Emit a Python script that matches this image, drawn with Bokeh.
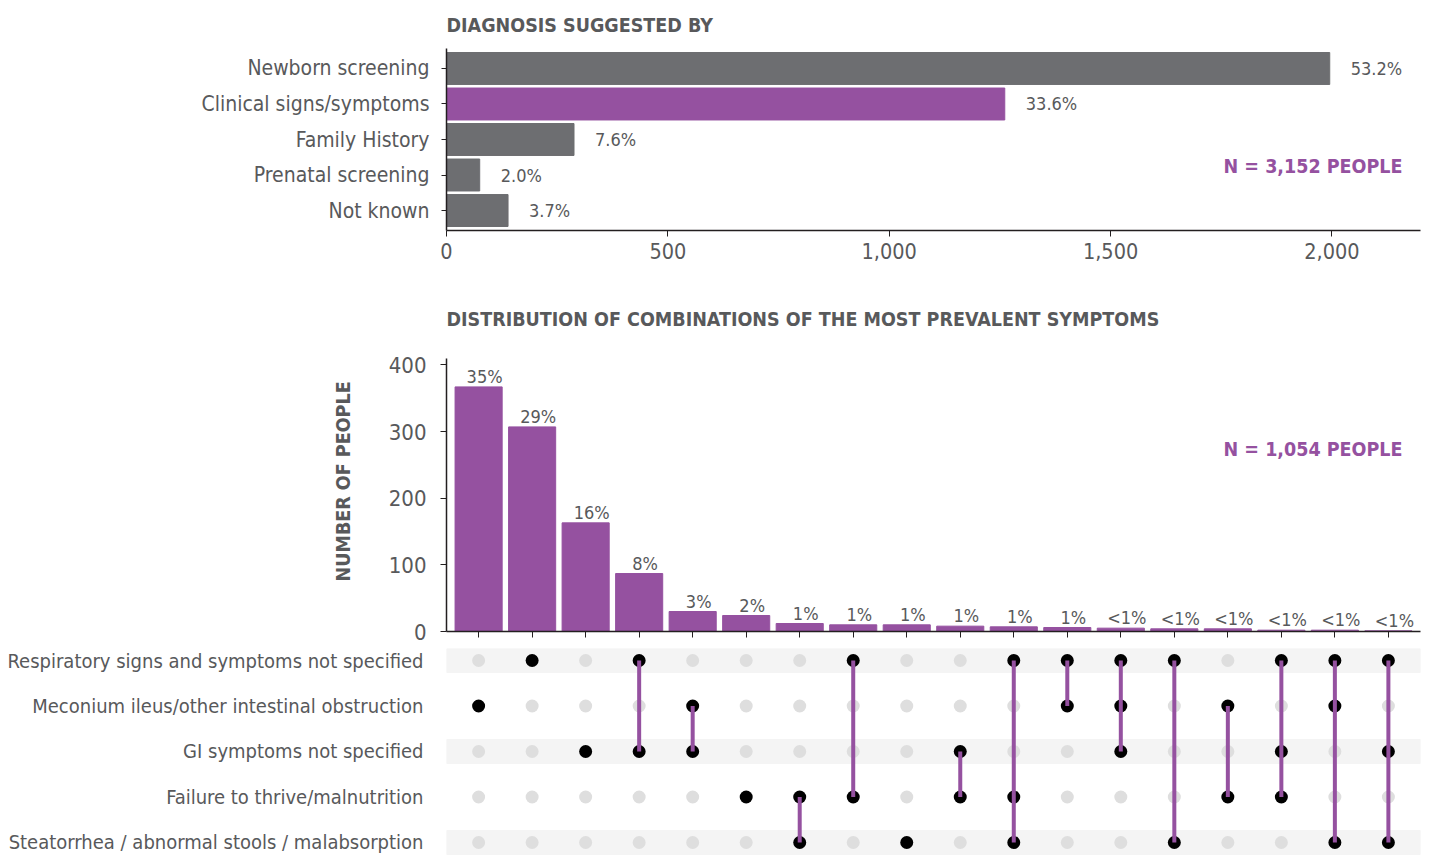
from bokeh.plotting import figure
from bokeh.models import Range1d, FixedTicker, Label, ColumnDataSource, CustomLabelingPolicy, Title
from bokeh.layouts import column
from bokeh.embed import file_html
from bokeh.resources import INLINE
from bokeh.core.properties import value

FONT = "'DejaVu Sans Condensed', 'Liberation Sans Narrow', Roboto, sans-serif"
TXT = "#58595b"
PURPLE = "#9551A0"
GREY = "#6d6e71"
AXIS = "#231f20"

# ---------------- data ----------------
diag_categories = ["Newborn screening", "Clinical signs/symptoms", "Family History",
                   "Prenatal screening", "Not known"]
diag_counts = [1995, 1261, 288, 75, 139]
diag_pct_labels = ["53.2%", "33.6%", "7.6%", "2.0%", "3.7%"]
diag_highlight = "Clinical signs/symptoms"
diag_title = "DIAGNOSIS SUGGESTED BY"
diag_n_label = "N = 3,152 PEOPLE"
diag_x_ticks = [0, 500, 1000, 1500, 2000]

symptoms = ["Respiratory signs and symptoms not specified",
            "Meconium ileus/other intestinal obstruction",
            "GI symptoms not specified",
            "Failure to thrive/malnutrition",
            "Steatorrhea / abnormal stools / malabsorption"]
combo_counts = [367, 307, 163, 87, 30, 24, 12, 10, 10, 8, 7, 6, 5, 4, 4, 2, 2, 1]
combo_pct_labels = ["35%", "29%", "16%", "8%", "3%", "2%", "1%", "1%", "1%", "1%",
                    "1%", "1%", "<1%", "<1%", "<1%", "<1%", "<1%", "<1%"]
combo_members = [[1], [0], [2], [0, 2], [1, 2], [3], [3, 4], [0, 3], [4], [2, 3],
                 [0, 3, 4], [0, 1], [0, 1, 2], [0, 4], [1, 3], [0, 2, 3], [0, 1, 4], [0, 2, 4]]
combo_title = "DISTRIBUTION OF COMBINATIONS OF THE MOST PREVALENT SYMPTOMS"
combo_y_title = "NUMBER OF PEOPLE"
combo_n_label = "N = 1,054 PEOPLE"
count_y_ticks = [0, 100, 200, 300, 400]
count_axis_max = 410

FIG_W = 1424
LEFT = 446
RIGHT = 4


def base_style(p):
    p.outline_line_color = None
    p.xgrid.visible = False
    p.ygrid.visible = False
    p.background_fill_color = "white"
    p.border_fill_color = "white"


# ---------------- top chart ----------------
n_diag = len(diag_categories)
y_top, y_bot = -0.563, n_diag - 1 + 0.563
p1 = figure(width=FIG_W, height=290, x_range=Range1d(0, 2200),
            y_range=Range1d(y_bot, y_top),
            output_backend="svg", toolbar_location=None,
            min_border_left=LEFT, min_border_right=RIGHT,
            min_border_top=48, min_border_bottom=60)
base_style(p1)
p1.title.text = diag_title
p1.title.text_font = FONT
p1.title.text_font_style = "bold"
p1.title.text_font_size = "19.5px"
p1.title.text_color = TXT
p1.title.align = "left"
p1.title.offset = 0
p1.title.standoff = 23

src1 = ColumnDataSource(dict(
    y=list(range(n_diag)), right=diag_counts, lab=diag_pct_labels,
    color=[PURPLE if c == diag_highlight else GREY for c in diag_categories]))
p1.hbar(y="y", left=0, right="right", height=0.9, color="color", source=src1)
p1.text(x="right", y="y", text="lab", source=src1, x_offset=21,
        text_align="left", text_baseline="middle",
        text_font=value(FONT), text_font_size="18px", text_color=TXT)

p1.xaxis.ticker = FixedTicker(ticks=diag_x_ticks)
p1.xaxis.major_label_overrides = {t: f"{t:,}" for t in diag_x_ticks}
p1.xaxis.minor_tick_line_color = None
p1.xaxis.major_tick_out = 6
p1.xaxis.major_tick_in = 0
p1.xaxis.major_label_standoff = 6
p1.xaxis.axis_line_color = AXIS
p1.xaxis.axis_line_width = 1.5
p1.xaxis.major_tick_line_color = AXIS
p1.xaxis.major_label_text_font = FONT
p1.xaxis.major_label_text_font_size = "21.5px"
p1.xaxis.major_label_text_color = TXT

p1.yaxis.ticker = FixedTicker(ticks=list(range(n_diag)))
p1.yaxis.major_label_overrides = {i: c for i, c in enumerate(diag_categories)}
p1.yaxis.minor_tick_line_color = None
p1.yaxis.major_tick_out = 5
p1.yaxis.major_tick_in = 0
p1.yaxis.major_label_standoff = 12
p1.yaxis.axis_line_color = AXIS
p1.yaxis.axis_line_width = 1.5
p1.yaxis.major_tick_line_color = AXIS
p1.yaxis.major_label_text_font = FONT
p1.yaxis.major_label_text_font_size = "21px"
p1.yaxis.major_label_text_color = TXT

p1.add_layout(Label(x=2200, y=2.761, x_offset=-18, text=diag_n_label,
                    text_align="right", text_baseline="middle",
                    text_font=FONT, text_font_style="bold",
                    text_font_size="19.5px", text_color=PURPLE))

# ---------------- combination bar chart ----------------
n_combo = len(combo_counts)
x0, x1 = -0.6, n_combo - 1 + 0.6
px_per_unit = 279 / count_axis_max          # axis height in px / axis extent
frame_h = 340
y_frame_max = frame_h / px_per_unit          # frame extends above the axis to host the title
p2 = figure(width=FIG_W, height=358, x_range=Range1d(x0, x1),
            y_range=Range1d(0, y_frame_max),
            output_backend="svg", toolbar_location=None,
            min_border_left=LEFT, min_border_right=RIGHT,
            min_border_top=8, min_border_bottom=10)
base_style(p2)

src2 = ColumnDataSource(dict(x=list(range(n_combo)), top=combo_counts, lab=combo_pct_labels))
p2.vbar(x="x", bottom=0, top="top", width=0.88, color=PURPLE, source=src2)
p2.text(x="x", y="top", text="lab", source=src2, x_offset=6, y_offset=0,
        text_align="center", text_baseline="bottom",
        text_font=value(FONT), text_font_size="18px", text_color=TXT)

p2.xaxis.ticker = FixedTicker(ticks=list(range(n_combo)))
p2.xaxis.major_label_policy = CustomLabelingPolicy(
    code="for (const i of indices) indices.unset(i); return indices")
p2.xaxis.major_label_standoff = 0
p2.xaxis.minor_tick_line_color = None
p2.xaxis.major_tick_out = 6
p2.xaxis.major_tick_in = 0
p2.xaxis.axis_line_color = AXIS
p2.xaxis.axis_line_width = 1.5
p2.xaxis.major_tick_line_color = AXIS

p2.yaxis.ticker = FixedTicker(ticks=count_y_ticks)
p2.yaxis.bounds = (0, count_axis_max)
p2.yaxis.minor_tick_line_color = None
p2.yaxis.major_tick_out = 6
p2.yaxis.major_tick_in = 0
p2.yaxis.major_label_standoff = 14
p2.yaxis.axis_line_color = AXIS
p2.yaxis.axis_line_width = 1.5
p2.yaxis.major_tick_line_color = AXIS
p2.yaxis.major_label_text_font = FONT
p2.yaxis.major_label_text_font_size = "22px"
p2.yaxis.major_label_text_color = TXT

p2.add_layout(Title(text=combo_y_title, align="left", offset=50, standoff=62,
                    text_font=FONT, text_font_style="bold",
                    text_font_size="19.5px", text_color=TXT), "left")

p2.add_layout(Label(x=x0, y=count_axis_max + 40 / px_per_unit, text=combo_title,
                    text_align="left", text_baseline="middle",
                    text_font=FONT, text_font_style="bold",
                    text_font_size="19.5px", text_color=TXT))
p2.add_layout(Label(x=x1, y=273, x_offset=-18, text=combo_n_label,
                    text_align="right", text_baseline="middle",
                    text_font=FONT, text_font_style="bold",
                    text_font_size="19.5px", text_color=PURPLE))

# ---------------- membership matrix ----------------
n_sym = len(symptoms)
p3 = figure(width=FIG_W, height=207, x_range=Range1d(x0, x1),
            y_range=Range1d(4.286, -0.264),
            output_backend="svg", toolbar_location=None,
            min_border_left=LEFT, min_border_right=RIGHT,
            min_border_top=0, min_border_bottom=0)
base_style(p3)

band_rows = [r for r in range(n_sym) if r % 2 == 0]
p3.hbar(y=band_rows, left=x0, right=x1, height=0.53, color="#f4f4f4")

gx, gy, bx, by = [], [], [], []
sx, sy0, sy1 = [], [], []
for ci, mem in enumerate(combo_members):
    for r in range(n_sym):
        if r in mem:
            bx.append(ci); by.append(r)
        else:
            gx.append(ci); gy.append(r)
    if len(mem) > 1:
        sx.append(ci); sy0.append(min(mem)); sy1.append(max(mem))

p3.scatter(x=gx, y=gy, size=13, color="#dedede", line_color=None)
p3.scatter(x=bx, y=by, size=13, color="black", line_color=None)
p3.segment(x0=sx, y0=sy0, x1=sx, y1=sy1, line_color=PURPLE, line_width=4)

p3.xaxis.visible = False
p3.yaxis.ticker = FixedTicker(ticks=list(range(n_sym)))
p3.yaxis.major_label_overrides = {i: s for i, s in enumerate(symptoms)}
p3.yaxis.minor_tick_line_color = None
p3.yaxis.major_tick_line_color = None
p3.yaxis.major_tick_out = 0
p3.yaxis.major_tick_in = 0
p3.yaxis.axis_line_color = None
p3.yaxis.major_label_standoff = 23
p3.yaxis.major_label_text_font = FONT
p3.yaxis.major_label_text_font_size = "20px"
p3.yaxis.major_label_text_color = TXT

layout = column(p1, p2, p3, spacing=0)
open("out.html", "w").write(file_html(layout, INLINE))
